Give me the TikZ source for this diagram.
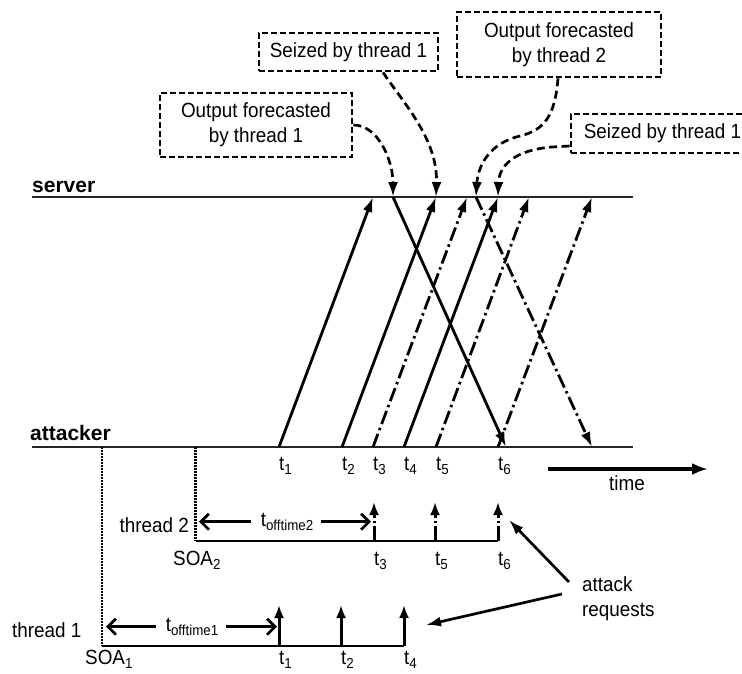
\documentclass[tikz,border=0pt]{standalone}
\usepackage{fontspec}
\setmainfont{Liberation Sans}[FakeStretch=0.92]
\newfontfamily\plainsans{Liberation Sans}
\usetikzlibrary{arrows.meta}
\newcommand\fs{\fontsize{20.5}{25}\selectfont}
\newcommand\fsb{\plainsans\fontsize{21}{25}\selectfont\bfseries}
\newcommand\tsb[2]{#1\raisebox{-4.5pt}{\fontsize{14.5}{14.5}\selectfont #2}}
\begin{document}
\begin{tikzpicture}[x=1pt,y=-1pt,
  lbl/.style={font=\fs, inner sep=0pt},
  axis/.style={line width=1.5pt, draw=black!85},
  msg/.style={line width=2.8pt, -{Latex[length=15pt,width=10pt]}},
  msgdd/.style={msg, dash pattern=on 14pt off 4pt on 2.5pt off 4pt},
  req/.style={line width=3pt, -{Latex[length=13pt,width=10pt]}},
  reqdd/.style={req, dash pattern=on 15pt off 3pt on 2.5pt off 3pt},
  callout/.style={line width=2.7pt, dash pattern=on 8pt off 4.5pt, -{Latex[length=15pt,width=10pt]}},
  notebox/.style={draw, line width=2.7pt, dash pattern=on 6pt off 3pt, font=\fs, align=center, inner sep=0pt},
  offset/.style={line width=2.7pt, -{Straight Barb[length=8pt,width=16pt]}},
  soa/.style={line width=2.2pt, dash pattern=on 1.5pt off 1.5pt},
  base/.style={line width=1.8pt}
]
\useasboundingbox (0,0) rectangle (742,673);
\clip (0,0) rectangle (742,673);

% time lines
\coordinate (srvL) at (32,197);  \coordinate (srvR) at (633,197);
\coordinate (attL) at (32,447);  \coordinate (attR) at (633,447);
\draw[axis] (srvL) -- (srvR);
\draw[axis] (attL) -- (attR);
\node[font=\fsb, inner sep=0pt, anchor=base west] (server) at (32,192) {server};
\node[font=\fsb, inner sep=0pt, anchor=base west] (attacker) at (30,440) {attacker};

% send instants on the attacker line, arrivals on the server line
\foreach \n/\xa/\xs in {1/279/373, 2/342/436, 3/373/467, 4/404/498, 5/436/529, 6/498/592}{
  \coordinate (a\n) at (\xa,447);
  \coordinate (s\n) at (\xs,197);
}
\coordinate (d1) at (393,197); \coordinate (r1) at (506,447);
\coordinate (d2) at (476,197); \coordinate (r2) at (592,447);

% requests of thread 1 (solid) and thread 2 (dash-dot)
\draw[msg] (a1) -- (s1);
\draw[msg] (a2) -- (s2);
\draw[msgdd] (a3) -- (s3);
\draw[msg] (a4) -- (s4);
\draw[msgdd] (a5) -- (s5);
\draw[msgdd] (a6) -- (s6);
% responses of the server
\draw[msg] (d1) -- (r1);
\draw[msgdd] (d2) -- (r2);

% labels of the send instants
\foreach \n in {1,...,6}{
  \node[lbl, anchor=base west] (ta\n) at (a\n |- 0,470) {\tsb{t}{\n}};
}

% time arrow
\coordinate (timeA) at (548,469); \coordinate (timeB) at (708,469);
\draw[line width=3.4pt, -{Latex[length=16pt,width=12pt]}] (timeA) -- (timeB);
\node[lbl, anchor=base] (time) at (627,490) {time};

% notes
\node[notebox, minimum width=192pt, minimum height=64pt] (b1) at (256,125) {Output forecasted\\by thread 1};
\node[notebox, minimum width=179pt, minimum height=38pt] (b2) at (348.5,52) {Seized by thread 1};
\node[notebox, minimum width=204pt, minimum height=65pt] (b3) at (559,44.5) {Output forecasted\\by thread 2};
\node[notebox, minimum width=183pt, minimum height=39pt] (b4) at (662.5,133.5) {Seized by thread 1};

\draw[callout] (b1.east) .. controls (378,125) and (393,160) .. (d1);
\draw[callout] ([xshift=34.5pt]b2.south) .. controls (405,105) and (438,140) .. (s2);
\draw[callout] ([xshift=-1pt]b3.south) .. controls (555,115) and (545,130) .. (520,136)
               .. controls (490,143) and (478,165) .. (d2);
\draw[callout] ([yshift=-12.5pt]b4.west) -- (552,147) .. controls (515,150) and (499,165) .. (s4);

% thread 2
\coordinate (soa2top) at (195.5,447); \coordinate (soa2) at (195.5,541);
\coordinate (th2end) at (498,541);
\draw[soa] (soa2top) -- (soa2);
\draw[base] (soa2) -- (th2end);
\foreach \n/\x in {3/374, 5/435, 6/498}{
  \coordinate (q\n) at (\x,541); \coordinate (qt\n) at (\x,502);
  \draw[reqdd] (q\n) -- (qt\n);
  \node[lbl, anchor=base west] (tq\n) at (\x,565) {\tsb{t}{\n}};
}
\node[lbl, anchor=base east] (thread2) at (189,532) {thread 2};
\node[lbl, anchor=base west] (soa2lbl) at (173,565) {\tsb{SOA}{2}};
\node[lbl] (off2) at (287,521.7) {\tsb{t}{offtime2}};
\draw[offset] ([xshift=-10pt]off2.west |- 0,521.7) -- (199,521.7);
\draw[offset] ([xshift=8pt]off2.east |- 0,521.7) -- (371,521.7);

% thread 1
\coordinate (soa1top) at (102,447); \coordinate (soa1) at (102,646);
\coordinate (th1end) at (404,646);
\draw[soa] (soa1top) -- (soa1);
\draw[base] (soa1) -- (th1end);
\foreach \n/\x in {1/279, 2/341, 4/404}{
  \coordinate (p\n) at (\x,646); \coordinate (pt\n) at (\x,605);
  \draw[req] (p\n) -- (pt\n);
  \node[lbl, anchor=base west] (tp\n) at (\x,664) {\tsb{t}{\n}};
}
\node[lbl, anchor=base west] (thread1) at (12,637) {thread 1};
\node[lbl, anchor=base west] (soa1lbl) at (85,664) {\tsb{SOA}{1}};
\node[lbl] (off1) at (192,626.7) {\tsb{t}{offtime1}};
\draw[offset] ([xshift=-10pt]off1.west |- 0,626.7) -- (106,626.7);
\draw[offset] ([xshift=8pt]off1.east |- 0,626.7) -- (277,626.7);

% pointer to the attack requests
\node[lbl, align=left, anchor=north west] (attack) at (582,576) {attack\\requests};
\coordinate (req2) at (509,520); \coordinate (req1) at (426,625);
\draw[line width=2.7pt, -{Latex[length=15pt,width=10pt]}] ([xshift=-13pt,yshift=-6pt]attack.north west) -- (req2);
\draw[line width=2.7pt, -{Latex[length=15pt,width=10pt]}] ([xshift=-20pt,yshift=-18pt]attack.north west) -- (req1);
\end{tikzpicture}
\end{document}
